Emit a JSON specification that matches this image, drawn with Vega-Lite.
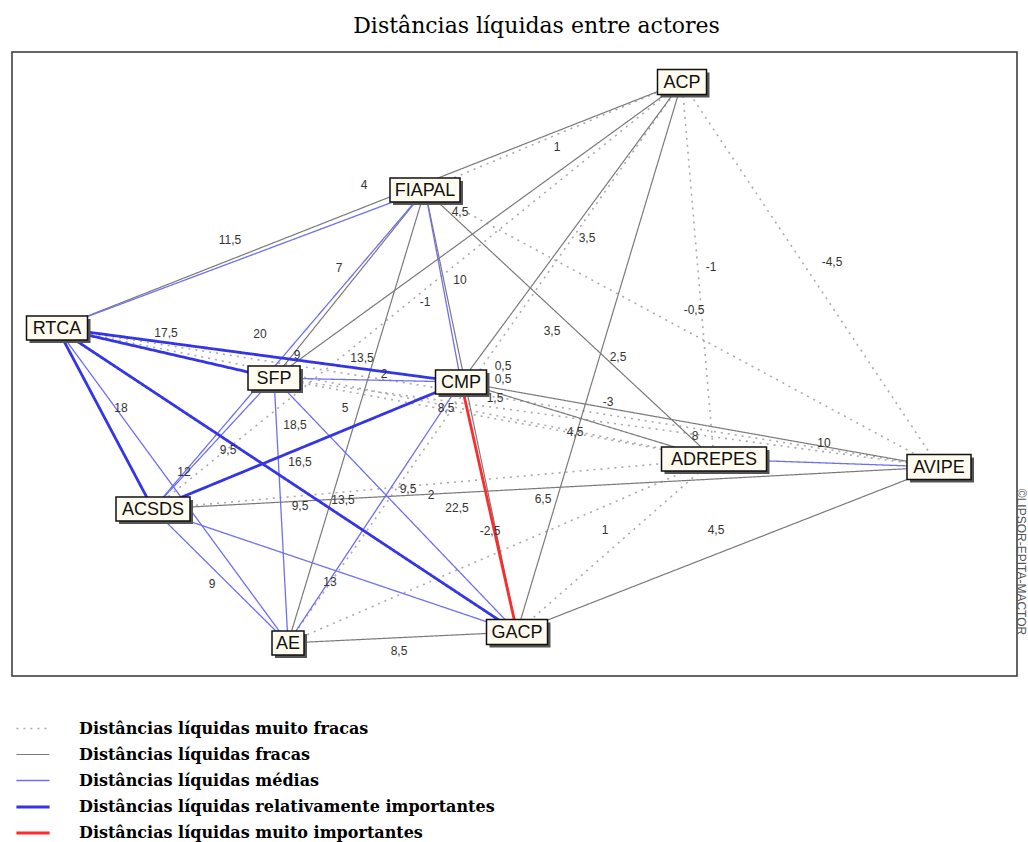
{
  "$schema": "https://vega.github.io/schema/vega-lite/v6.json",
  "width": 1005,
  "height": 624,
  "autosize": {"type": "none"},
  "padding": {"left": 12, "top": 52, "right": 11, "bottom": 166},
  "background": "white",
  "title": {"text": "Distâncias líquidas entre actores", "font": "DejaVu Serif", "fontSize": 22, "fontWeight": "normal", "color": "black", "anchor": "middle", "dx": 22, "offset": 14},
  "datasets": {
    "nodes": [
      {"name": "ACP", "x": 682, "y": 82},
      {"name": "FIAPAL", "x": 425, "y": 190},
      {"name": "RTCA", "x": 57, "y": 328},
      {"name": "SFP", "x": 274, "y": 378},
      {"name": "CMP", "x": 461, "y": 382},
      {"name": "ADREPES", "x": 714, "y": 459},
      {"name": "AVIPE", "x": 939, "y": 467},
      {"name": "ACSDS", "x": 153, "y": 509},
      {"name": "AE", "x": 288, "y": 643},
      {"name": "GACP", "x": 517, "y": 632}
    ],
    "edges": [
      {"s": "ACP", "t": "FIAPAL", "v": 1, "cls": "Distâncias líquidas muito fracas", "lx": 557, "ly": 147},
      {"s": "ACP", "t": "ADREPES", "v": -1, "cls": "Distâncias líquidas muito fracas", "lx": 711, "ly": 267},
      {"s": "ACP", "t": "AVIPE", "v": -4.5, "cls": "Distâncias líquidas muito fracas", "lx": 832, "ly": 262},
      {"s": "ACP", "t": "ACSDS", "v": -1, "cls": "Distâncias líquidas muito fracas", "lx": 425, "ly": 302},
      {"s": "ACP", "t": "AE", "v": 0.5, "cls": "Distâncias líquidas muito fracas", "lx": 503, "ly": 366},
      {"s": "FIAPAL", "t": "AVIPE", "v": -0.5, "cls": "Distâncias líquidas muito fracas", "lx": 694, "ly": 310},
      {"s": "RTCA", "t": "ADREPES", "v": 2, "cls": "Distâncias líquidas muito fracas", "lx": 384, "ly": 374},
      {"s": "RTCA", "t": "AVIPE", "v": 0.5, "cls": "Distâncias líquidas muito fracas", "lx": 503, "ly": 379},
      {"s": "SFP", "t": "ADREPES", "v": 1.5, "cls": "Distâncias líquidas muito fracas", "lx": 495, "ly": 398},
      {"s": "SFP", "t": "AVIPE", "v": -3, "cls": "Distâncias líquidas muito fracas", "lx": 608, "ly": 402},
      {"s": "ADREPES", "t": "ACSDS", "v": 2, "cls": "Distâncias líquidas muito fracas", "lx": 431, "ly": 495},
      {"s": "ADREPES", "t": "AE", "v": -2.5, "cls": "Distâncias líquidas muito fracas", "lx": 490, "ly": 531},
      {"s": "ADREPES", "t": "GACP", "v": 1, "cls": "Distâncias líquidas muito fracas", "lx": 605, "ly": 530},
      {"s": "ACP", "t": "RTCA", "v": 4, "cls": "Distâncias líquidas fracas", "lx": 364, "ly": 185},
      {"s": "ACP", "t": "SFP", "v": 4.5, "cls": "Distâncias líquidas fracas", "lx": 460, "ly": 212},
      {"s": "ACP", "t": "CMP", "v": 3.5, "cls": "Distâncias líquidas fracas", "lx": 587, "ly": 238},
      {"s": "ACP", "t": "GACP", "v": 2.5, "cls": "Distâncias líquidas fracas", "lx": 618, "ly": 357},
      {"s": "FIAPAL", "t": "SFP", "v": 7, "cls": "Distâncias líquidas fracas", "lx": 339, "ly": 268},
      {"s": "FIAPAL", "t": "ADREPES", "v": 3.5, "cls": "Distâncias líquidas fracas", "lx": 552, "ly": 331},
      {"s": "FIAPAL", "t": "AE", "v": 5, "cls": "Distâncias líquidas fracas", "lx": 345, "ly": 408},
      {"s": "FIAPAL", "t": "GACP", "v": 8.5, "cls": "Distâncias líquidas fracas", "lx": 446, "ly": 408},
      {"s": "CMP", "t": "ADREPES", "v": 4.5, "cls": "Distâncias líquidas fracas", "lx": 575, "ly": 432},
      {"s": "CMP", "t": "AVIPE", "v": 8, "cls": "Distâncias líquidas fracas", "lx": 695, "ly": 436},
      {"s": "AVIPE", "t": "ACSDS", "v": 6.5, "cls": "Distâncias líquidas fracas", "lx": 543, "ly": 499},
      {"s": "AVIPE", "t": "GACP", "v": 4.5, "cls": "Distâncias líquidas fracas", "lx": 716, "ly": 530},
      {"s": "AE", "t": "GACP", "v": 8.5, "cls": "Distâncias líquidas fracas", "lx": 399, "ly": 651},
      {"s": "FIAPAL", "t": "RTCA", "v": 11.5, "cls": "Distâncias líquidas médias", "lx": 230, "ly": 240},
      {"s": "FIAPAL", "t": "CMP", "v": 10, "cls": "Distâncias líquidas médias", "lx": 460, "ly": 280},
      {"s": "FIAPAL", "t": "ACSDS", "v": 9, "cls": "Distâncias líquidas médias", "lx": 297, "ly": 355},
      {"s": "RTCA", "t": "AE", "v": 12, "cls": "Distâncias líquidas médias", "lx": 184, "ly": 472},
      {"s": "SFP", "t": "CMP", "v": 13.5, "cls": "Distâncias líquidas médias", "lx": 362, "ly": 358},
      {"s": "SFP", "t": "ACSDS", "v": 9.5, "cls": "Distâncias líquidas médias", "lx": 228, "ly": 450},
      {"s": "SFP", "t": "AE", "v": 9.5, "cls": "Distâncias líquidas médias", "lx": 300, "ly": 506},
      {"s": "SFP", "t": "GACP", "v": 9.5, "cls": "Distâncias líquidas médias", "lx": 408, "ly": 489},
      {"s": "CMP", "t": "AE", "v": 13.5, "cls": "Distâncias líquidas médias", "lx": 343, "ly": 500},
      {"s": "ADREPES", "t": "AVIPE", "v": 10, "cls": "Distâncias líquidas médias", "lx": 824, "ly": 443},
      {"s": "ACSDS", "t": "AE", "v": 9, "cls": "Distâncias líquidas médias", "lx": 212, "ly": 584},
      {"s": "ACSDS", "t": "GACP", "v": 13, "cls": "Distâncias líquidas médias", "lx": 330, "ly": 582},
      {"s": "RTCA", "t": "SFP", "v": 17.5, "cls": "Distâncias líquidas relativamente importantes", "lx": 166, "ly": 333},
      {"s": "RTCA", "t": "CMP", "v": 20, "cls": "Distâncias líquidas relativamente importantes", "lx": 260, "ly": 334},
      {"s": "RTCA", "t": "ACSDS", "v": 18, "cls": "Distâncias líquidas relativamente importantes", "lx": 121, "ly": 408},
      {"s": "RTCA", "t": "GACP", "v": 16.5, "cls": "Distâncias líquidas relativamente importantes", "lx": 300, "ly": 462},
      {"s": "CMP", "t": "ACSDS", "v": 18.5, "cls": "Distâncias líquidas relativamente importantes", "lx": 295, "ly": 425},
      {"s": "CMP", "t": "GACP", "v": 22.5, "cls": "Distâncias líquidas muito importantes", "lx": 457, "ly": 508}
    ]
  },
  "layer": [
    {
      "data": {"name": "edges"},
      "transform": [
        {"lookup": "s", "from": {"data": {"name": "nodes"}, "key": "name", "fields": ["x", "y"]}, "as": ["sx", "sy"]},
        {"lookup": "t", "from": {"data": {"name": "nodes"}, "key": "name", "fields": ["x", "y"]}, "as": ["tx", "ty"]}
      ],
      "mark": {"type": "rule", "strokeCap": "butt"},
      "encoding": {
        "x": {"field": "sx", "type": "quantitative", "scale": {"domain": [12, 1017], "nice": false, "zero": false}, "axis": null},
        "y": {"field": "sy", "type": "quantitative", "scale": {"domain": [52, 676], "reverse": true, "nice": false, "zero": false}, "axis": null},
        "x2": {"field": "tx"},
        "y2": {"field": "ty"},
        "color": {
          "field": "cls", "type": "nominal",
          "scale": {
            "domain": ["Distâncias líquidas muito fracas", "Distâncias líquidas fracas", "Distâncias líquidas médias", "Distâncias líquidas relativamente importantes", "Distâncias líquidas muito importantes"],
            "range": ["#ababab", "#7a7a7a", "#6f6ff5", "#3434e8", "#ff2a2a"]
          },
          "legend": {"title": null}
        },
        "strokeDash": {
          "field": "cls", "type": "nominal",
          "scale": {
            "domain": ["Distâncias líquidas muito fracas", "Distâncias líquidas fracas", "Distâncias líquidas médias", "Distâncias líquidas relativamente importantes", "Distâncias líquidas muito importantes"],
            "range": [[2, 5], [1, 0], [1, 0], [1, 0], [1, 0]]
          },
          "legend": {"title": null}
        },
        "strokeWidth": {
          "field": "cls", "type": "nominal",
          "scale": {
            "type": "ordinal",
            "domain": ["Distâncias líquidas muito fracas", "Distâncias líquidas fracas", "Distâncias líquidas médias", "Distâncias líquidas relativamente importantes", "Distâncias líquidas muito importantes"],
            "range": [1.6, 1.2, 1.3, 2.8, 2.8]
          },
          "legend": {"title": null}
        }
      }
    },
    {
      "data": {"name": "edges"},
      "transform": [
        {"calculate": "replace(toString(datum.v), '.', ',')", "as": "lbl"}
      ],
      "mark": {"type": "text", "font": "Liberation Sans", "fontSize": 12, "color": "#333333", "align": "center", "baseline": "middle"},
      "encoding": {
        "x": {"field": "lx", "type": "quantitative"},
        "y": {"field": "ly", "type": "quantitative"},
        "text": {"field": "lbl"}
      }
    },
    {
      "data": {"name": "nodes"},
      "mark": {"type": "point", "filled": true, "fill": "#555555", "strokeWidth": 0, "opacity": 1, "size": 4, "xOffset": 3, "yOffset": 3},
      "encoding": {
        "x": {"field": "x", "type": "quantitative"},
        "y": {"field": "y", "type": "quantitative"},
        "shape": {
          "field": "name", "type": "nominal", "legend": null,
          "scale": {
            "domain": ["ACP", "FIAPAL", "RTCA", "SFP", "CMP", "ADREPES", "AVIPE", "ACSDS", "AE", "GACP"],
            "range": ["M-24.5,-12.5H24.5V12.5H-24.5Z", "M-35,-12H35V12H-35Z", "M-30.5,-12H30.5V12H-30.5Z", "M-26,-12H26V12H-26Z", "M-25.5,-12H25.5V12H-25.5Z", "M-52.5,-12H52.5V12H-52.5Z", "M-32,-12.5H32V12.5H-32Z", "M-37,-12H37V12H-37Z", "M-16,-12H16V12H-16Z", "M-30.5,-12.5H30.5V12.5H-30.5Z"]
          }
        }
      }
    },
    {
      "data": {"name": "nodes"},
      "mark": {"type": "point", "filled": true, "fill": "#fffcef", "stroke": "#111111", "strokeWidth": 1.5, "opacity": 1, "size": 4},
      "encoding": {
        "x": {"field": "x", "type": "quantitative"},
        "y": {"field": "y", "type": "quantitative"},
        "shape": {"field": "name", "type": "nominal", "legend": null}
      }
    },
    {
      "data": {"name": "nodes"},
      "mark": {"type": "text", "font": "Liberation Sans", "fontSize": 18, "color": "#111111", "align": "center", "baseline": "middle", "dy": 1},
      "encoding": {
        "x": {"field": "x", "type": "quantitative"},
        "y": {"field": "y", "type": "quantitative"},
        "text": {"field": "name"}
      }
    },
    {
      "data": {"values": [{"t": "©LIPSOR-EPITA-MACTOR"}]},
      "mark": {"type": "text", "font": "Liberation Sans", "fontSize": 12, "color": "#555555", "angle": 90, "align": "center", "baseline": "middle"},
      "encoding": {
        "x": {"datum": 1021, "type": "quantitative"},
        "y": {"datum": 562, "type": "quantitative"},
        "text": {"field": "t"}
      }
    }
  ],
  "config": {
    "view": {"stroke": "#333333", "strokeWidth": 1.5},
    "legend": {
      "orient": "none", "legendX": 3, "legendY": 659,
      "labelFont": "DejaVu Serif", "labelFontWeight": "bold", "labelFontSize": 16, "labelColor": "black", "labelLimit": 700,
      "symbolType": "stroke", "symbolSize": 1100, "labelOffset": 28, "rowPadding": -5
    }
  }
}
